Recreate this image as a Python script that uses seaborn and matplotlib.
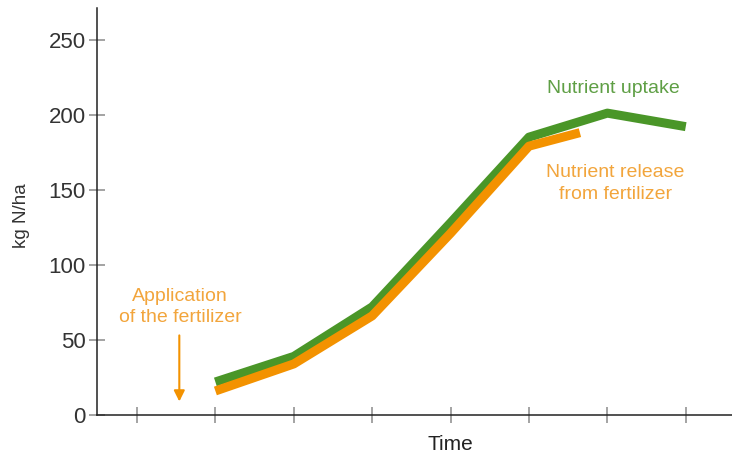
import pandas as pd
import matplotlib
matplotlib.use('Agg')
import matplotlib.pyplot as plt
import seaborn as sns

# time steps (tick positions) and values
uptake_t = [2, 3, 4, 5, 6, 7, 8]
uptake_n = [22, 39, 72, 128, 185, 201, 192]
release_t = [2, 3, 4, 5, 6, 6.65]
release_n = [16, 34, 66, 121, 179, 188]
time_ticks = [1, 2, 3, 4, 5, 6, 7, 8]
y_ticks = [0, 50, 100, 150, 200, 250]

green = '#4a9628'
orange = '#f39200'
green_txt = '#5f9f45'
orange_txt = '#f2a53c'

sns.set_style('white')
plt.rcParams['font.family'] = ['Liberation Sans', 'DejaVu Sans']

df_up = pd.DataFrame({'t': uptake_t, 'n': uptake_n})
df_rel = pd.DataFrame({'t': release_t, 'n': release_n})

fig = plt.figure(figsize=(7.32, 4.58), dpi=100)
ax = fig.add_axes([97 / 732, 43 / 458, 635 / 732, 407 / 458])

sns.lineplot(data=df_up, x='t', y='n', color=green, lw=6.5, sort=False,
             solid_capstyle='butt', ax=ax)
sns.lineplot(data=df_rel, x='t', y='n', color=orange, lw=6.5, sort=False,
             solid_capstyle='butt', ax=ax)

ax.set_xlim(0.49, 8.59)
ax.set_ylim(0, 271)
ax.set_xticks(time_ticks)
ax.set_xticklabels([])
ax.set_yticks(y_ticks)
ax.set_yticklabels([str(v) for v in y_ticks], fontsize=16, color='#333333')

for s in ['top', 'right']:
    ax.spines[s].set_visible(False)
for s in ['left', 'bottom']:
    ax.spines[s].set_color('#222222')
    ax.spines[s].set_linewidth(1.1)

ax.tick_params(axis='both', direction='inout', length=12, width=1.1,
               color='#8a8a8a', pad=2, bottom=True, left=True)

ax.set_xlabel('Time', fontsize=15, color='#222222', va='center')
ax.xaxis.set_label_coords(353 / 635, -30 / 407)
ax.set_ylabel('kg N/ha', fontsize=13.5, color='#333333', va='center')
ax.yaxis.set_label_coords(-75 / 635, 0.49)

ax.text(7.08, 217.5, 'Nutrient uptake', color=green_txt, fontsize=14,
        ha='center', va='center')
ax.text(7.1, 154, 'Nutrient release\nfrom fertilizer', color=orange_txt,
        fontsize=14, ha='center', va='center', linespacing=1.35)
ax.text(1.55, 72, 'Application\nof the fertilizer', color=orange_txt,
        fontsize=14, ha='center', va='center', linespacing=1.35)
ax.annotate('', xy=(1.54, 9), xytext=(1.54, 53),
            arrowprops=dict(arrowstyle='-|>', color=orange, lw=1.5,
                            mutation_scale=16, shrinkA=0, shrinkB=0))

fig.savefig('out.png', dpi=100)
